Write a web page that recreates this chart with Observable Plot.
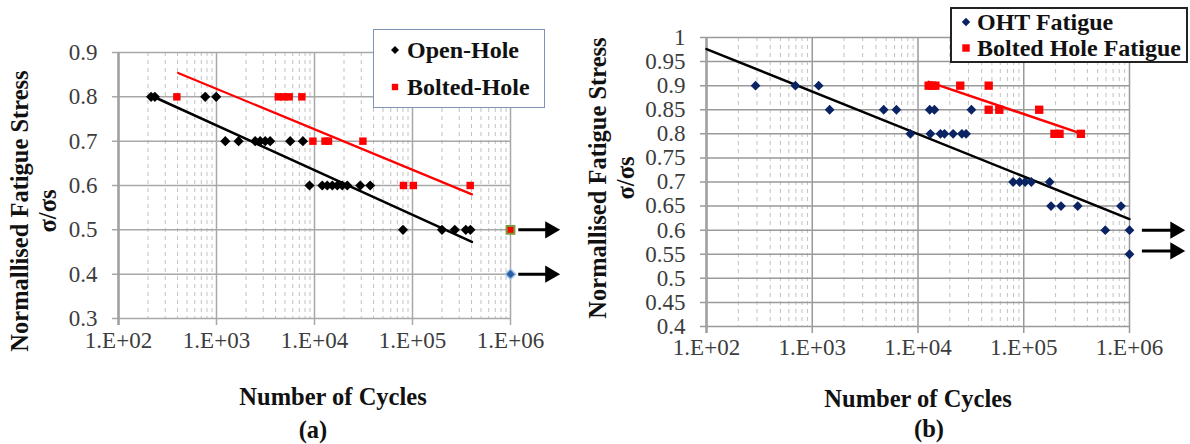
<!DOCTYPE html>
<html><head><meta charset="utf-8">
<script src="https://cdn.jsdelivr.net/npm/d3@7"></script>
<script src="https://cdn.jsdelivr.net/npm/@observablehq/plot@0.6"></script>
<style>
body{margin:0;background:#fff;width:1190px;height:444px;position:relative;overflow:hidden;font-family:"Liberation Serif","Times New Roman","DejaVu Serif",serif;}
.abs{position:absolute;}
.ytitle{position:absolute;transform:translate(-50%,-50%) rotate(-90deg);white-space:nowrap;font-weight:bold;font-size:24.5px;line-height:28px;text-align:center;color:#111;}
.ctitle{position:absolute;transform:translate(-50%,-50%);white-space:nowrap;font-weight:bold;font-size:24.5px;color:#111;}
.legend{position:absolute;background:#fff;box-sizing:border-box;}
.legend .item{position:absolute;white-space:nowrap;font-weight:bold;font-size:24px;line-height:28px;transform:translateY(-50%);color:#111;}
.legend svg{position:absolute;overflow:visible;}
</style></head><body>
<div id="panelA" class="abs" style="left:0;top:0"></div>
<div id="panelB" class="abs" style="left:590px;top:0"></div>
<div class="ytitle" style="left:34px;top:211px">Normallised Fatigue Stress<br>σ/σs</div>
<div class="ytitle" style="left:612px;top:178px">Normallised Fatigue Stress<br>σ/σs</div>
<div class="ctitle" style="left:333px;top:397px">Number of Cycles</div>
<div class="ctitle" style="left:918px;top:399px">Number of Cycles</div>
<div class="ctitle" style="left:313px;top:430px">(a)</div>
<div class="ctitle" style="left:929px;top:429px">(b)</div>
<div id="legA" class="legend" style="left:373px;top:29px;width:172px;height:79px;border:1.5px solid #7f93b5;"></div>
<div id="legB" class="legend" style="left:950px;top:7px;width:238px;height:56px;border:2px solid #222;"></div>
<script>
// ---------- axis ticks ----------
const xTicks = [1e2, 1e3, 1e4, 1e5, 1e6];
const xTickLabels = ["1.E+02", "1.E+03", "1.E+04", "1.E+05", "1.E+06"];
const yTicksA = [0.3, 0.4, 0.5, 0.6, 0.7, 0.8, 0.9];
const yTicksB = [0.4, 0.45, 0.5, 0.55, 0.6, 0.65, 0.7, 0.75, 0.8, 0.85, 0.9, 0.95, 1];

// ---------- panel (a) ----------
const openHoleN = [215, 235, 767, 993,
  1230, 1680, 2480, 2790, 3140, 3530, 5650, 7620,
  8890, 12000, 13500, 15200, 17100, 19200, 21600, 29300, 37000,
  80000, 200000, 270000, 350000, 390000];
const openHoleS = [0.8, 0.8, 0.8, 0.8,
  0.7, 0.7, 0.7, 0.7, 0.7, 0.7, 0.7, 0.7,
  0.6, 0.6, 0.6, 0.6, 0.6, 0.6, 0.6, 0.6, 0.6,
  0.5, 0.5, 0.5, 0.5, 0.5];
const boltedHoleN = [394, 4270, 4850, 5520, 7430,
  9630, 12800, 13900, 31200,
  80900, 102000, 388000];
const boltedHoleS = [0.8, 0.8, 0.8, 0.8, 0.8,
  0.7, 0.7, 0.7, 0.7,
  0.6, 0.6, 0.6];
const runoutA_boltN = [1e6], runoutA_boltS = [0.5];
const runoutA_openN = [1e6], runoutA_openS = [0.4];
// trendlines (end points)
const trendA_openN = [237, 404000], trendA_openS = [0.7985, 0.4728];
const trendA_boltN = [406, 404000], trendA_boltS = [0.854, 0.58];
// run-out arrows
const arrowA_N1 = [1.2e6, 1.2e6], arrowA_N2 = [2.54e6, 2.54e6], arrowA_S = [0.5, 0.4];

// ---------- panel (b) ----------
const ohtN = [291, 693, 1150,
  1460, 4740, 6250, 12900, 14300, 32000,
  8470, 13100, 16300, 17800, 21500, 26000, 28500,
  79300, 91500, 103000, 118000, 176000,
  181000, 225000, 324000, 830000,
  590000, 1e6, 1e6];
const ohtS = [0.9, 0.9, 0.9,
  0.85, 0.85, 0.85, 0.85, 0.85, 0.85,
  0.8, 0.8, 0.8, 0.8, 0.8, 0.8, 0.8,
  0.7, 0.7, 0.7, 0.7, 0.7,
  0.65, 0.65, 0.65, 0.65,
  0.6, 0.6, 0.55];
const boltFatN = [12600, 13600, 14600, 25100, 46600,
  46600, 58700, 140000,
  195000, 218000, 347000];
const boltFatS = [0.9, 0.9, 0.9, 0.9, 0.9,
  0.85, 0.85, 0.85,
  0.8, 0.8, 0.8];
const trendB_ohtN = [1e2, 1e6], trendB_ohtS = [0.976, 0.623];
const trendB_boltN = [12600, 356000], trendB_boltS = [0.908, 0.80];
const arrowB_N1 = [1.31e6, 1.31e6], arrowB_N2 = [2.71e6, 2.71e6], arrowB_S = [0.6, 0.557];

// ---------- helpers ----------
const zip = (N, S) => N.map((n, i) => ({N: n, S: S[i]}));
const minorTicks = [];
for (let i = 0; i < xTicks.length - 1; i++) for (let k = 2; k <= 9; k++) minorTicks.push(k * xTicks[i]);
const fmtY = d => String(+d.toFixed(2));
const FONT = "'Liberation Serif', 'Times New Roman', 'DejaVu Serif', serif";

function panel(cfg) {
  return Plot.plot({
    width: cfg.width, height: 444,
    marginLeft: cfg.ml, marginRight: cfg.mr, marginTop: cfg.mt, marginBottom: cfg.mb,
    style: {fontFamily: FONT, background: "transparent", overflow: "visible"},
    x: {type: "log", domain: [1e2, 1e6], axis: null},
    y: {domain: cfg.yDomain, axis: null},
    marks: [
      Plot.ruleX(minorTicks, {stroke: "#c2c2c2", strokeWidth: 1, strokeDasharray: "4,4"}),
      Plot.ruleY(cfg.yTicks, {stroke: cfg.grid, strokeWidth: 1.5, insetLeft: -6}),
      Plot.ruleX(xTicks, {stroke: cfg.grid, strokeWidth: 1.5, insetBottom: -7}),
      Plot.ruleX([xTicks[0]], {stroke: "#a0a0a0", strokeWidth: 2.5, insetBottom: -7}),
      Plot.text(cfg.yTicks, {y: d => d, text: fmtY, frameAnchor: "left", dx: -21, textAnchor: "end", fontSize: 23, fontFamily: FONT, fill: "#3c3c3c"}),
      Plot.text(xTicks, {x: d => d, text: (d, i) => xTickLabels[i], frameAnchor: "bottom", dy: cfg.xdy, fontSize: 23, fontFamily: FONT, fill: "#3c3c3c"}),
      ...cfg.marks
    ]
  });
}
function arrows(N1, N2, S) {
  const data = N1.map((n, i) => ({x1: n, x2: N2[i], y: S[i]}));
  return [
    Plot.link(data, {x1: "x1", x2: "x2", y1: "y", y2: "y", stroke: "#000", strokeWidth: 3}),
    Plot.dot(data, {x: "x2", y: "y", symbol: "triangle", rotate: 90, r: 6.4, fill: "#000", stroke: "none"})
  ];
}

const red = "#ff0000", navy = "#0a2363";

document.getElementById("panelA").append(panel({
  width: 590, ml: 118, mr: 80, mt: 52, mb: 126, yDomain: [0.3, 0.9], yTicks: yTicksA, grid: "#a8a8a8", xdy: 29,
  marks: [
    Plot.line(zip(trendA_boltN, trendA_boltS), {x: "N", y: "S", stroke: red, strokeWidth: 2.2}),
    Plot.line(zip(trendA_openN, trendA_openS), {x: "N", y: "S", stroke: "#000", strokeWidth: 2.5}),
    Plot.dot(zip(boltedHoleN, boltedHoleS), {x: "N", y: "S", symbol: "square", r: 4.2, fill: red, stroke: "none"}),
    Plot.dot(zip(openHoleN, openHoleS), {x: "N", y: "S", symbol: "diamond2", r: 4.6, fill: "#000", stroke: "none"}),
    Plot.dot(zip(runoutA_boltN, runoutA_boltS), {x: "N", y: "S", symbol: "square", r: 4.4, fill: red, stroke: "#7a9a3c", strokeWidth: 2}),
    Plot.dot(zip(runoutA_openN, runoutA_openS), {x: "N", y: "S", symbol: "diamond2", r: 4.6, fill: "#2a5ea6", stroke: "#9dc0e4", strokeWidth: 1.5}),
    ...arrows(arrowA_N1, arrowA_N2, arrowA_S)
  ]
}));

document.getElementById("panelB").append(panel({
  width: 600, ml: 116, mr: 61, mt: 37, mb: 118, yDomain: [0.4, 1], yTicks: yTicksB, grid: "#9a9a9a", xdy: 28,
  marks: [
    Plot.line(zip(trendB_ohtN, trendB_ohtS), {x: "N", y: "S", stroke: "#000", strokeWidth: 2.5}),
    Plot.line(zip(trendB_boltN, trendB_boltS), {x: "N", y: "S", stroke: red, strokeWidth: 2.5}),
    Plot.dot(zip(ohtN, ohtS), {x: "N", y: "S", symbol: "diamond2", r: 4.4, fill: navy, stroke: "none"}),
    Plot.dot(zip(boltFatN, boltFatS), {x: "N", y: "S", symbol: "square", r: 4.7, fill: red, stroke: "none"}),
    ...arrows(arrowB_N1, arrowB_N2, arrowB_S)
  ]
}));

// ---------- legends ----------
function legend(el, items, mx, tx) {
  for (const it of items) {
    const s = d3.create("svg").attr("width", 1).attr("height", 1)
      .style("left", mx + "px").style("top", it.y + "px");
    s.append("path").attr("d", d3.symbol(it.symbol === "square" ? d3.symbolSquare : d3.symbolDiamond2, Math.PI * it.r * it.r)())
      .attr("fill", it.color);
    el.append(s.node());
    const t = document.createElement("div");
    t.className = "item"; t.textContent = it.label;
    t.style.left = tx + "px"; t.style.top = it.y + "px";
    el.append(t);
  }
}
legend(document.getElementById("legA"), [
  {label: "Open-Hole", symbol: "diamond", color: "#000", r: 3.6, y: 20},
  {label: "Bolted-Hole", symbol: "square", color: red, r: 3.6, y: 57}
], 21, 33);
legend(document.getElementById("legB"), [
  {label: "OHT Fatigue", symbol: "diamond", color: navy, r: 3.8, y: 13},
  {label: "Bolted Hole Fatigue", symbol: "square", color: red, r: 4.2, y: 39}
], 14, 25);
</script>
</body></html>
